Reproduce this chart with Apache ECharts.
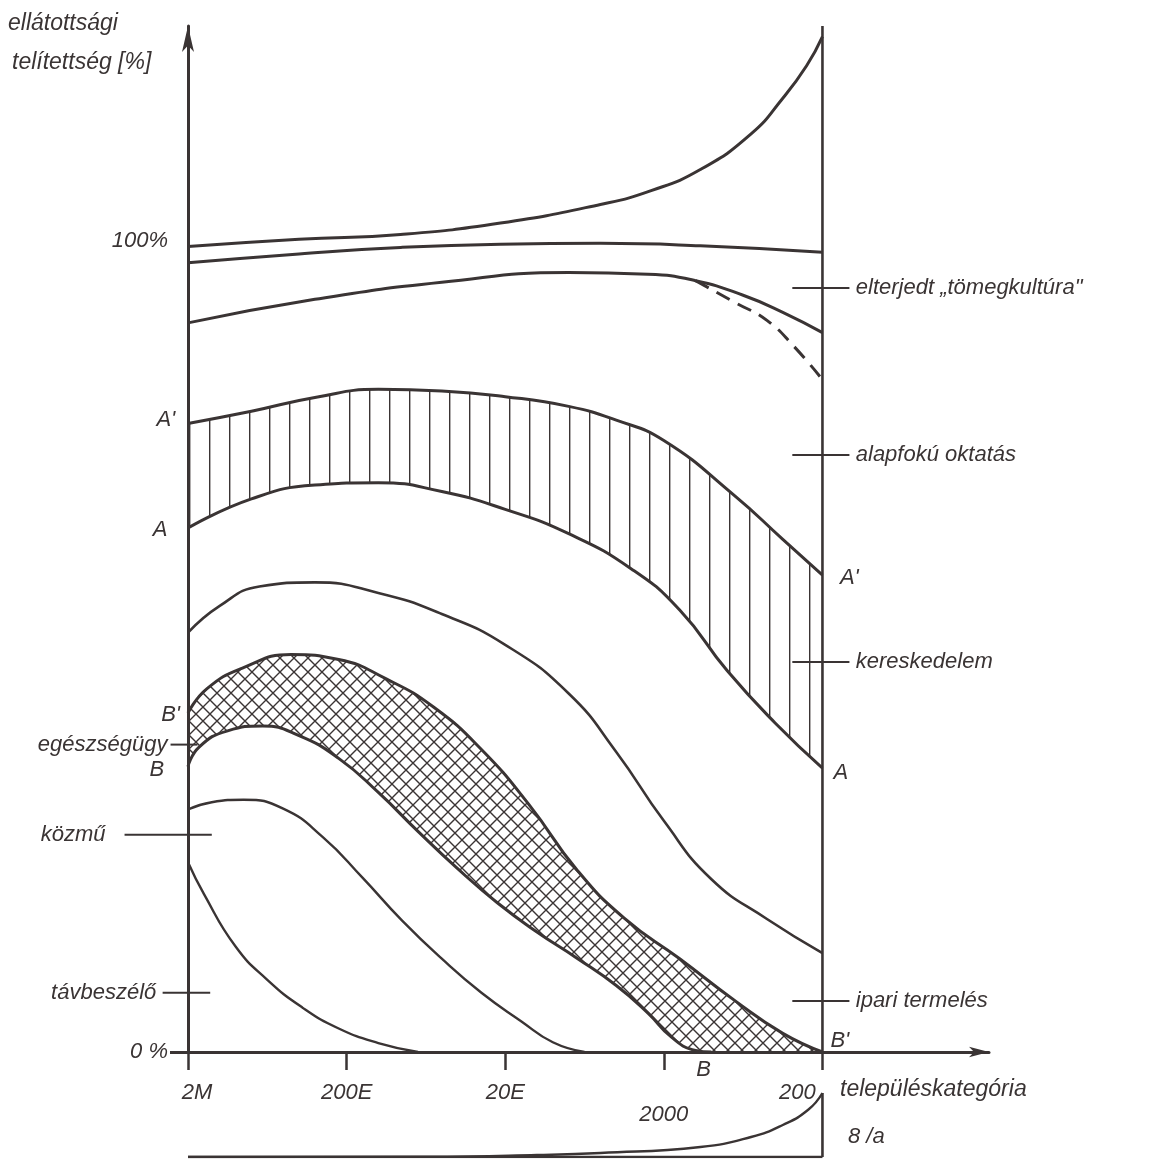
<!DOCTYPE html>
<html><head><meta charset="utf-8">
<script src="https://cdn.jsdelivr.net/npm/echarts@6/dist/echarts.min.js"></script>
<style>html,body{margin:0;padding:0;background:#fff}#c{width:1168px;height:1160px}</style>
</head><body><div id="c"></div>
<script>
// ---- axis ticks / labels ----
const xTicks = [0, 1, 2, 3, 4];
const xTickLabels = ['2M', '200E', '20E', '2000', '200'];
const yTickValues = [0, 100];
const yTickLabels = ['0 %', '100%'];

// ---- curves: [settlement category position, saturation %] ----
const curveTop = [[0,99.3],[0.7,100.2],[1.34,100.8],[1.97,102.2],[2.6,104.5],[2.92,106.2],[3.23,108.8],[3.55,113.2],[3.75,117.6],[3.9,121.6],[4,125.2]];
const curve100 = [[0,97.3],[0.7,98.4],[1.34,99.2],[1.97,99.6],[2.6,99.7],[3.23,99.4],[4,98.6]];
const curveMass = [[0,89.9],[0.8,92.8],[1.6,94.9],[2.4,96.1],[2.9,95.9],[3.2,95.1],[3.5,93.3],[3.75,91.2],[4,88.7]];
const curveMassDashed = [[3.2,95.1],[3.45,92.4],[3.65,90.2],[3.82,87.0],[4,82.9]];
const curveAprime = [[0,77.5],[0.4,79.0],[0.8,80.7],[1.2,81.7],[1.6,81.5],[2.0,80.8],[2.4,79.6],[2.7,77.9],[3.0,75.4],[3.44,68.7],[3.75,63.2],[4,58.8]];
const curveA = [[0,64.6],[0.4,68.2],[0.8,69.9],[1.2,70.2],[1.6,69.1],[2.0,66.9],[2.4,63.9],[2.8,59.5],[3.1,54.5],[3.4,47.0],[3.7,40.6],[4,35.0]];
const curveTrade = [[0,51.7],[0.2,55.0],[0.45,57.4],[0.8,57.9],[1.2,56.6],[1.6,54.0],[2.0,50.2],[2.4,44.2],[2.7,37.0],[3.0,28.5],[3.3,21.3],[3.65,16.4],[4,12.2]];
const curveBprime = [[0,41.8],[0.12,44.8],[0.35,47.4],[0.65,49.0],[0.95,48.4],[1.25,46.0],[1.55,42.5],[1.85,37.3],[2.15,30.5],[2.45,22.5],[2.75,16.5],[3.1,11.5],[3.45,6.3],[3.75,2.3],[4,0]];
const curveB = [[0,35.2],[0.07,37.6],[0.25,39.6],[0.47,40.2],[0.7,39.0],[0.95,36.2],[1.2,32.0],[1.45,27.2],[1.7,22.6],[1.95,18.4],[2.2,14.8],[2.45,11.6],[2.7,8.2],[2.9,4.8],[3.05,1.8],[3.2,0.2],[3.3,0]];
const curveUtility = [[0,29.9],[0.15,30.8],[0.35,31.1],[0.6,30.0],[0.85,26.5],[1.1,21.5],[1.35,16.2],[1.6,11.5],[1.85,7.3],[2.1,3.8],[2.3,1.2],[2.5,0]];
const curvePhone = [[0,23.4],[0.1,19.5],[0.3,13.0],[0.5,8.9],[0.72,5.5],[0.95,2.9],[1.2,1.1],[1.45,0]];
const rightEdge = [[4,0],[4,126.5]];

// ---- inset (8/a) ----
const insetCurve = [[0,0],[1.5,0.05],[2.2,0.25],[2.6,0.5],[3.23,1.25],[3.55,2.5],[3.75,4.0],[3.91,5.9],[4,8]];
const insetBase = [[0,0],[4,0]];
const insetEdge = [[4,0],[4,8]];

// ---- annotations ----
const rightNotes = [['elterjedt „tömegkultúra"', 94.2], ['alapfokú oktatás', 73.6], ['kereskedelem', 48.1], ['ipari termelés', 6.3]];
const leftNotes = [['egészségügy', 37.9, -0.11, 0.06, -0.13], ['közmű', 26.8, -0.4, 0.15, -0.52], ['távbeszélő', 7.3, -0.16, 0.14, -0.2]];
const pointLabelsLeft = [["A'", -0.08, 77.9], ['A', -0.13, 64.4], ["B'", -0.05, 41.6], ['B', -0.15, 34.8]];
const pointLabelsRight = [["A'", 4.11, 58.5], ['A', 4.07, 34.4], ["B'", 4.05, 1.4]];
const pointLabelBottom = ['B', 3.25, -2.2];

const INK = '#3a3434';
const FONT = "'Liberation Sans', 'DejaVu Sans', sans-serif";

function vPattern() {
  const c = document.createElement('canvas'); c.width = 20; c.height = 8;
  const g = c.getContext('2d');
  g.fillStyle = '#fff'; g.fillRect(0, 0, 20, 8);
  g.fillStyle = INK; g.fillRect(9, 0, 1.4, 8);
  return c;
}
function xPattern() {
  const s = 14;
  const c = document.createElement('canvas'); c.width = s; c.height = s;
  const g = c.getContext('2d');
  g.fillStyle = '#fff'; g.fillRect(0, 0, s, s);
  g.strokeStyle = INK; g.lineWidth = 1.4;
  g.beginPath();
  g.moveTo(-2, -2); g.lineTo(s + 2, s + 2);
  g.moveTo(s + 2, -2); g.lineTo(-2, s + 2);
  g.stroke();
  return c;
}

const SMOOTH = 0.5;
function ln(data, w, extra) {
  return Object.assign({
    type: 'line', data: data, smooth: SMOOTH, symbol: 'none', showSymbol: false,
    lineStyle: { color: INK, width: w }, z: 3, silent: true, animation: false
  }, extra || {});
}
function fill(data, color) {
  return {
    type: 'line', data: data, smooth: SMOOTH, symbol: 'none', showSymbol: false,
    lineStyle: { width: 0, opacity: 0 }, areaStyle: { color: color, opacity: 1 }, z: 1, silent: true, animation: false
  };
}

const lblStyle = { fontSize: 22, fontStyle: 'italic', fontFamily: FONT, color: INK };

const chart = echarts.init(document.getElementById('c'), null, { renderer: 'canvas' });
chart.setOption({
  backgroundColor: '#ffffff',
  animation: false,
  grid: [
    { left: 188, right: 179, top: 26, bottom: 108 },
    { left: 188, right: 179, top: 1093, bottom: 3 }
  ],
  xAxis: [
    {
      gridIndex: 0, type: 'value', min: 0, max: 5.05, interval: 1, z: 10,
      axisLine: { onZero: true, lineStyle: { color: INK, width: 3 }, symbol: ['none', 'arrow'], symbolSize: [8, 20] },
      axisTick: { show: true, customValues: xTicks, length: 18, lineStyle: { color: INK, width: 2.5 } },
      axisLabel: {
        margin: 30,
        formatter: function (v) {
          const i = xTicks.indexOf(v);
          if (i < 0) return '';
          const t = xTickLabels[i];
          if (i === 0) return '{a|' + t + '}';
          if (i === 3) return '{d|' + t + '}';
          if (i === 4) return '{r|' + t + '}';
          return '{n|' + t + '}';
        },
        rich: {
          n: Object.assign({}, lblStyle),
          a: Object.assign({ padding: [0, 0, 0, 18] }, lblStyle),
          d: Object.assign({ padding: [22, 0, 0, 0] }, lblStyle),
          r: Object.assign({ padding: [0, 50, 0, 0] }, lblStyle)
        }
      },
      splitLine: { show: false }
    },
    { gridIndex: 1, type: 'value', min: 0, max: 5.05, show: false }
  ],
  yAxis: [
    {
      gridIndex: 0, type: 'value', min: 0, max: 126.5, interval: 100, z: 10,
      axisLine: { show: true, lineStyle: { color: INK, width: 3 }, symbol: ['none', 'arrow'], symbolSize: [9, 26] },
      axisTick: { show: true, customValues: [0], length: 18, lineStyle: { color: INK, width: 3 } },
      axisLabel: {
        margin: 20, fontSize: 22, fontStyle: 'italic', fontFamily: FONT, color: INK,
        formatter: function (v) { const i = yTickValues.indexOf(v); return i < 0 ? '' : yTickLabels[i]; }
      },
      splitLine: { show: false }
    },
    { gridIndex: 1, type: 'value', min: 0, max: 8, show: false }
  ],
  series: [
    fill(curveAprime, { image: vPattern(), repeat: 'repeat' }),
    fill(curveA, '#ffffff'),
    fill(curveBprime, { image: xPattern(), repeat: 'repeat' }),
    fill(curveB, '#ffffff'),
    ln(curveTop, 3),
    ln(curve100, 3),
    ln(curveMass, 3),
    ln(curveMassDashed, 3, { lineStyle: { color: INK, width: 3, type: [15, 9] } }),
    ln(curveAprime, 3),
    ln(curveA, 3),
    ln(curveTrade, 2.6),
    ln(curveBprime, 3),
    ln(curveB, 3),
    ln(curveUtility, 2.4),
    ln(curvePhone, 2.4),
    ln(rightEdge, 2.6, { smooth: false }),
    ln(insetBase, 2.6, { xAxisIndex: 1, yAxisIndex: 1, smooth: false }),
    ln(insetCurve, 2.4, { xAxisIndex: 1, yAxisIndex: 1 }),
    ln(insetEdge, 2.6, { xAxisIndex: 1, yAxisIndex: 1, smooth: false })
  ]
});

// ---- annotations placed through the chart's own coordinate system ----
function px(x, y) { return chart.convertToPixel({ gridIndex: 0 }, [x, y]); }
function txt(text, p, align, extra) {
  return {
    type: 'text', silent: true, z: 20,
    style: Object.assign({ text: text, x: p[0], y: p[1], fill: INK, fontSize: 22, fontStyle: 'italic', fontFamily: FONT, align: align, verticalAlign: 'middle' }, extra || {})
  };
}
function seg(p1, p2) {
  return { type: 'line', silent: true, z: 20, shape: { x1: p1[0], y1: p1[1], x2: p2[0], y2: p2[1] }, style: { stroke: INK, lineWidth: 2 } };
}
const g = [];
rightNotes.forEach(function (n) {
  g.push(seg(px(3.81, n[1]), px(4.17, n[1])));
  g.push(txt(n[0], px(4.21, n[1]), 'left'));
});
leftNotes.forEach(function (n) {
  g.push(seg(px(n[2], n[1]), px(n[3], n[1])));
  g.push(txt(n[0], px(n[4], n[1]), 'right'));
});
pointLabelsLeft.forEach(function (n) { g.push(txt(n[0], px(n[1], n[2]), 'right')); });
pointLabelsRight.forEach(function (n) { g.push(txt(n[0], px(n[1], n[2]), 'left')); });
g.push(txt(pointLabelBottom[0], px(pointLabelBottom[1], pointLabelBottom[2]), 'center'));
// axis titles and figure label
g.push({ type: 'text', silent: true, z: 20, style: { text: 'ellátottsági', x: 8, y: 24, fill: INK, fontSize: 23, fontStyle: 'italic', fontFamily: FONT, align: 'left', verticalAlign: 'middle' } });
g.push({ type: 'text', silent: true, z: 20, style: { text: 'telítettség [%]', x: 12, y: 63, fill: INK, fontSize: 23, fontStyle: 'italic', fontFamily: FONT, align: 'left', verticalAlign: 'middle' } });
g.push({ type: 'text', silent: true, z: 20, style: { text: 'településkategória', x: 840, y: 1090, fill: INK, fontSize: 23, fontStyle: 'italic', fontFamily: FONT, align: 'left', verticalAlign: 'middle' } });
g.push({ type: 'text', silent: true, z: 20, style: { text: '8 /a', x: 848, y: 1137, fill: INK, fontSize: 22, fontStyle: 'italic', fontFamily: FONT, align: 'left', verticalAlign: 'middle' } });
chart.setOption({ graphic: g });
</script>
</body></html>
